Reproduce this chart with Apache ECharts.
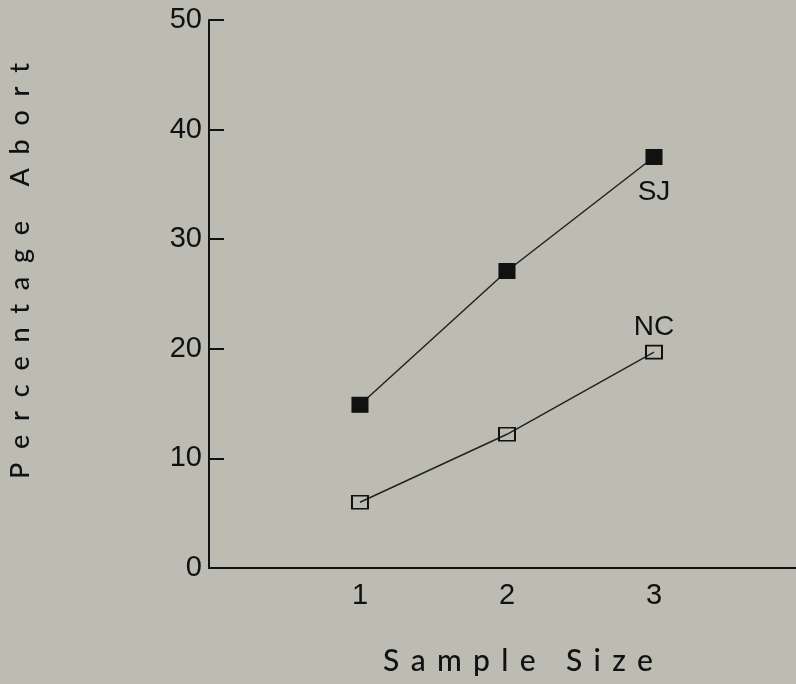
<!DOCTYPE html>
<html>
<head>
<meta charset="utf-8">
<script src="https://cdn.jsdelivr.net/npm/echarts@6/dist/echarts.min.js"></script>
<style>
html,body{margin:0;padding:0;background:#bdbcb2;}
#c{width:796px;height:684px;}
</style>
</head>
<body>
<div id="c"></div>
<script>
var sampleSizes = [1, 2, 3];
var sjValues = [14.9, 27.1, 37.5];
var ncValues = [6.0, 12.2, 19.7];
var yTicks = [0, 10, 20, 30, 40, 50];
var seriesNames = ['SJ', 'NC'];
var xTitle = 'Sample Size';
var yTitle = 'Percentage Abort';

function pairs(vals){ return sampleSizes.map(function(x,i){ return [x, vals[i]]; }); }
var font = '"Liberation Sans Narrow","Liberation Sans",Arial,sans-serif';
var titleFamily = '"Lato","Noto Sans",sans-serif';
var bg = '#bdbcb2';

// spread title letters evenly over a given span
var mctx = document.createElement('canvas').getContext('2d');
function spacedLetters(text, fontCss, span, start, vertical, across) {
  mctx.font = fontCss;
  var chars = text.split('');
  var widths = chars.map(function(ch){ return mctx.measureText(ch).width; });
  var sum = widths.reduce(function(a,b){ return a+b; }, 0);
  var track = (span - sum) / (chars.length - 1);
  var pos = 0, out = [];
  chars.forEach(function(ch, i){
    var c = pos + widths[i] / 2;
    if (ch !== ' ') {
      out.push(vertical ? {
        type: 'text', x: across, y: start - c, rotation: Math.PI / 2,
        style: {text: ch, fill: '#111', font: fontCss, textAlign: 'center', textVerticalAlign: 'middle'}
      } : {
        type: 'text', x: start + c, y: across,
        style: {text: ch, fill: '#111', font: fontCss, textAlign: 'center', textVerticalAlign: 'middle'}
      });
    }
    pos += widths[i] + track;
  });
  return out;
}

var graphics = []
  .concat(spacedLetters(xTitle, '500 30px ' + titleFamily, 270, 383, false, 661))
  .concat(spacedLetters(yTitle, '500 27px ' + titleFamily, 416, 479, true, 20));

var chart = echarts.init(document.getElementById('c'));
chart.setOption({
  backgroundColor: bg,
  animation: false,
  grid: {left: 209, right: 0, top: 20, bottom: 116},
  xAxis: {
    type: 'value', min: -0.027, max: 3.966,
    axisLine: {show: true, onZero: false, lineStyle: {color: '#111', width: 2}},
    axisTick: {show: false},
    splitLine: {show: false},
    axisLabel: {
      color: '#111', fontSize: 29, fontFamily: font, margin: 13,
      customValues: sampleSizes
    }
  },
  yAxis: {
    type: 'value', min: yTicks[0], max: yTicks[yTicks.length-1], interval: 10,
    axisLine: {show: true, onZero: false, lineStyle: {color: '#111', width: 2}},
    axisTick: {show: true, inside: true, length: 15, lineStyle: {color: '#111', width: 2}},
    splitLine: {show: false},
    axisLabel: {color: '#111', fontSize: 29, fontFamily: font, margin: 7}
  },
  graphic: graphics,
  series: [
    {
      name: seriesNames[0], type: 'line', data: pairs(sjValues),
      symbol: 'rect', symbolSize: [16, 15],
      lineStyle: {color: '#222', width: 1.5},
      itemStyle: {color: '#111', borderColor: '#111', borderWidth: 1},
      label: {show: true, position: 'bottom', distance: 13, color: '#111', fontSize: 28, fontFamily: font,
        formatter: function(p){ return p.dataIndex === sampleSizes.length-1 ? seriesNames[0] : ''; }}
    },
    {
      name: seriesNames[1], type: 'line', data: pairs(ncValues),
      symbol: 'rect', symbolSize: [16, 13],
      lineStyle: {color: '#222', width: 1.5},
      itemStyle: {color: 'rgba(0,0,0,0)', borderColor: '#111', borderWidth: 1.8},
      label: {show: true, position: 'top', distance: 3, color: '#111', fontSize: 28, fontFamily: font,
        formatter: function(p){ return p.dataIndex === sampleSizes.length-1 ? seriesNames[1] : ''; }}
    }
  ]
});
</script>
</body>
</html>
